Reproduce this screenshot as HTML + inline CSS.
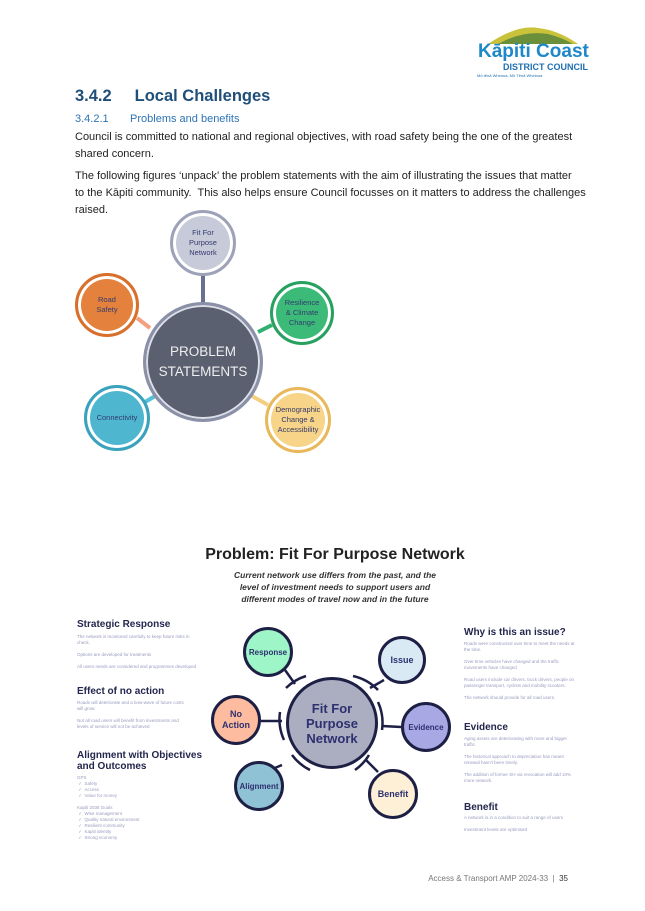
<!DOCTYPE html>
<html><head><meta charset="utf-8"><style>
body{margin:0;width:645px;height:911px;background:#fff;position:relative;overflow:hidden;font-family:"Liberation Sans",sans-serif}
.a{position:absolute;white-space:nowrap}
.b{font-size:11px;color:#222;line-height:17px}
.c{position:absolute;border-radius:50%;display:flex;align-items:center;justify-content:center;text-align:center;box-sizing:border-box}
.t{font-size:7.5px;color:#333a6e;line-height:10px}
.h{font-weight:bold;color:#23264d;font-size:10px}
.s{color:#9a9cc0;font-size:4.5px;line-height:6px;white-space:normal}
.d{position:absolute;border-radius:50%;border:3px solid #1d1f45;display:flex;align-items:center;justify-content:center;font-weight:bold;color:#2e3170;font-size:9px;text-align:center;box-sizing:border-box;line-height:11px}
</style></head><body>
<div class="a" style="left:478px;top:24px;width:110px;height:20px">
<svg width="110" height="22"><path d="M10 20 Q40 0 60 4 Q80 6 100 20Z" fill="#c9c23a"/><path d="M20 20 Q45 6 70 10 Q85 14 95 20Z" fill="#2d6a3c" opacity=".6"/></svg></div>
<div class="a" style="left:478px;top:41px;font-size:19px;font-weight:bold;color:#1e88c8">Kāpiti Coast</div>
<div class="a" style="left:503px;top:62px;font-size:9px;font-weight:bold;color:#1e6fb0">DISTRICT COUNCIL</div>
<div class="a" style="left:477px;top:73px;font-size:4px;color:#1e6fb0">Mō tēnā Whenua, Mō Tēnā Wheinua</div>

<div class="a" style="left:75px;top:87px;font-size:16.5px;font-weight:bold;color:#1f4e79">3.4.2&nbsp;&nbsp;&nbsp;&nbsp;&nbsp;Local Challenges</div>
<div class="a" style="left:75px;top:113px;font-size:11px;color:#2e74b5">3.4.2.1&nbsp;&nbsp;&nbsp;&nbsp;&nbsp;&nbsp;&nbsp;Problems and benefits</div>
<div class="a b" style="left:75px;top:129px">Council is committed to national and regional objectives, with road safety being the one of the greatest<br>shared concern.</div>
<div class="a b" style="left:75px;top:168px">The following figures ‘unpack’ the problem statements with the aim of illustrating the issues that matter<br>to the Kāpiti community.&nbsp; This also helps ensure Council focusses on it matters to address the challenges<br>raised.</div>

<svg class="a" style="left:0;top:0" width="645" height="911">
<g stroke-width="4">
<line x1="203" y1="275" x2="203" y2="305" stroke="#6a7090"/>
<line x1="137" y1="318" x2="150" y2="328" stroke="#f4a080"/>
<line x1="272" y1="325" x2="258" y2="332" stroke="#2fb070"/>
<line x1="145" y1="402" x2="157" y2="395" stroke="#55c0d8"/>
<line x1="268" y1="405" x2="252" y2="396" stroke="#f3cf80"/>
</g>
<g fill="none" stroke="#1d1f45" stroke-width="2.5">
<path d="M286 688 A50 50 0 0 1 306 676"/>
<path d="M353 676 A50 50 0 0 1 378 690"/>
<path d="M378 702 A50 50 0 0 1 382 730"/>
<path d="M369 755 A50 50 0 0 1 355 770"/>
<path d="M310 770 A50 50 0 0 1 292 755"/>
<path d="M284 740 A50 50 0 0 1 280 712"/>
<polyline points="285,670 295,684"/>
<polyline points="384,680 370,688"/>
<polyline points="382,726 401,727"/>
<polyline points="366,760 378,772"/>
<polyline points="270,770 282,765"/>
<polyline points="261,721 282,721"/>
</g>
</svg>

<div class="c" style="left:143px;top:302px;width:120px;height:120px;background:#5a6070;border:3px solid #8a90a8;box-shadow:0 0 0 2px #dcdfe8 inset;color:#eee;font-size:13.5px;line-height:20px">PROBLEM<br>STATEMENTS</div>
<div class="c t" style="left:170px;top:210px;width:66px;height:66px;background:#c7cad8;border:3px solid #9ea2b8;box-shadow:0 0 0 3px #fff inset">Fit For<br>Purpose<br>Network</div>
<div class="c t" style="left:75px;top:273px;width:64px;height:64px;background:#e4813c;border:3px solid #d86f2a;box-shadow:0 0 0 3px #fff inset">Road<br>Safety</div>
<div class="c t" style="left:270px;top:281px;width:64px;height:64px;background:#3cbb78;border:3px solid #28a060;box-shadow:0 0 0 3px #fff inset">Resilience<br>&amp; Climate<br>Change</div>
<div class="c t" style="left:84px;top:385px;width:66px;height:66px;background:#4fb6cf;border:3px solid #3aa2bc;box-shadow:0 0 0 3px #fff inset">Connectivity</div>
<div class="c t" style="left:265px;top:387px;width:66px;height:66px;background:#f7d487;border:3px solid #e8b85a;box-shadow:0 0 0 3px #fff inset">Demographic<br>Change &amp;<br>Accessibility</div>

<div class="a" style="left:0;width:670px;text-align:center;top:546px;font-size:16px;font-weight:bold;color:#222">Problem: Fit For Purpose Network</div>
<div class="a" style="left:0;width:670px;text-align:center;top:569px;font-size:8.5px;font-weight:bold;font-style:italic;color:#333;line-height:12px">Current network use differs from the past, and the<br>level of investment needs to support users and<br>different modes of travel now and in the future</div>

<div class="d" style="left:286px;top:677px;width:92px;height:92px;background:#abadc0;font-size:13px;line-height:15px">Fit For<br>Purpose<br>Network</div>
<div class="d" style="left:243px;top:627px;width:50px;height:50px;background:#9ef5c8;font-size:8px">Response</div>
<div class="d" style="left:378px;top:636px;width:48px;height:48px;background:#d9eaf4">Issue</div>
<div class="d" style="left:211px;top:695px;width:50px;height:50px;background:#fdbb9f">No<br>Action</div>
<div class="d" style="left:401px;top:702px;width:50px;height:50px;background:#a7a8e4;font-size:8px">Evidence</div>
<div class="d" style="left:234px;top:761px;width:50px;height:50px;background:#8fc2d4;font-size:8px">Alignment</div>
<div class="d" style="left:368px;top:769px;width:50px;height:50px;background:#fdf0d6">Benefit</div>

<div class="a h" style="left:77px;top:619px">Strategic Response</div>
<div class="a s" style="left:77px;top:634px;width:125px">The network is monitored carefully to keep future risks in check.<br><br>Options are developed for treatments<br><br>All users needs are considered and programmes developed</div>
<div class="a h" style="left:77px;top:686px">Effect of no action</div>
<div class="a s" style="left:77px;top:700px;width:110px">Roads will deteriorate and a bow-wave of future costs will grow.<br><br>Not all road users will benefit from investments and levels of service will not be achieved</div>
<div class="a h" style="left:77px;top:750px;line-height:11px">Alignment with Objectives<br>and Outcomes</div>
<div class="a s" style="left:77px;top:775px;width:100px">GPS<br>&nbsp;✓&nbsp;&nbsp;Safety<br>&nbsp;✓&nbsp;&nbsp;Access<br>&nbsp;✓&nbsp;&nbsp;Value for money<br><br>Kapiti 2038 Goals<br>&nbsp;✓&nbsp;&nbsp;Wise management<br>&nbsp;✓&nbsp;&nbsp;Quality natural environment<br>&nbsp;✓&nbsp;&nbsp;Resilient community<br>&nbsp;✓&nbsp;&nbsp;Kapiti identity<br>&nbsp;✓&nbsp;&nbsp;Strong economy</div>

<div class="a h" style="left:464px;top:627px">Why is this an issue?</div>
<div class="a s" style="left:464px;top:641px;width:115px">Roads were constructed over time to meet the needs at the time.<br><br>Over time vehicles have changed and the traffic movements have changed<br><br>Road users include car drivers, truck drivers, people on passenger transport, cyclists and mobility scooters.<br><br>The network should provide for all road users.</div>
<div class="a h" style="left:464px;top:722px">Evidence</div>
<div class="a s" style="left:464px;top:736px;width:115px">Aging assets are deteriorating with more and bigger traffic.<br><br>The historical approach to depreciation has meant renewal hasn't been timely.<br><br>The addition of former SH via revocation will add 10% more network.</div>
<div class="a h" style="left:464px;top:802px">Benefit</div>
<div class="a s" style="left:464px;top:815px;width:110px">A network is in a condition to suit a range of users<br><br>Investment levels are optimised</div>

<div class="a" style="left:400px;width:168px;text-align:right;top:874px;font-size:8px;color:#777">Access &amp; Transport AMP 2024-33&nbsp; |&nbsp; <span style="color:#333">35</span></div>
</body></html>
